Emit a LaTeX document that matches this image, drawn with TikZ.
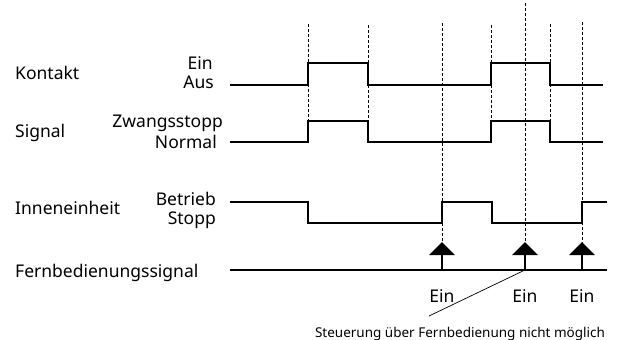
\documentclass[tikz,border=0pt]{standalone}
\usepackage{fontspec}
\setmainfont{Noto Sans}
\usetikzlibrary{positioning, arrows.meta}

\begin{document}
\begin{tikzpicture}[
        x=1pt, y=-1pt,
        font=\fontsize{17.5}{20}\selectfont,
        verlauf/.style={draw, line width=2.8pt, line join=miter},
        hilfslinie/.style={draw, densely dashed, line width=0.7pt},
        bezeichnung/.style={anchor=base west, inner sep=0pt},
        zustand/.style={anchor=base east, inner sep=0pt},
        pfeil/.style={draw, line width=2.8pt, -{Triangle[width=25pt, length=13pt]}},
        hinweis/.style={font=\fontsize{13.5}{15}\selectfont, anchor=base, inner sep=0pt}
    ]
    \useasboundingbox (0,0) rectangle (625,340);

    % Bezeichnungen links
    \node (kontakt) [bezeichnung] at (15,79) {Kontakt};
    \node (signal) [bezeichnung] at (15,137) {Signal};
    \node (innen) [bezeichnung] at (15,214) {Inneneinheit};
    \node (fern) [bezeichnung] at (15,277) {Fernbedienungssignal};

    % Zustaende
    \node (ein-k) [zustand] at (213,69) {Ein};
    \node (aus-k) [zustand] at (214,88) {Aus};
    \node (zwang-s) [zustand] at (223,127) {Zwangsstopp};
    \node (normal-s) [zustand] at (217,148) {Normal};
    \node (betrieb-i) [zustand] at (216,205) {Betrieb};
    \node (stopp-i) [zustand] at (216,224) {Stopp};

    % Hilfslinien
    \foreach \x/\oben/\unten in {308/24/121, 368/25/121, 442/23/243, 491/25/121,
                                 525/3/243, 550/24/121, 582/22/243}
        \draw[hilfslinie] (\x,\oben) -- (\x,\unten);

    % Signalverlaeufe
    \draw[verlauf] (230,85) -- (308,85) -- (308,63) -- (368,63) -- (368,85) -- (491,85)
        -- (491,63) -- (550,63) -- (550,85) -- (603,85);
    \draw[verlauf] (230,142) -- (308,142) -- (308,121) -- (368,121) -- (368,142) -- (491,142)
        -- (491,121) -- (550,121) -- (550,142) -- (603,142);
    \draw[verlauf] (230,202) -- (308,202) -- (308,223) -- (442,223) -- (442,202) -- (492,202)
        -- (492,223) -- (582,223) -- (582,202) -- (607,202);
    \draw[verlauf] (230,270) -- (607,270);

    % Fernbedienung Ein
    \foreach \i/\x in {1/442, 2/525, 3/582} {
        \coordinate (f\i) at (\x,270);
        \coordinate (f\i-spitze) at (\x,242);
        \draw[pfeil] (f\i) -- (f\i-spitze);
        \node (ein\i) [zustand, anchor=base] at (\x,302) {Ein};
    }

    % Hinweis
    \node (nicht) [hinweis] at (460,337) {Steuerung über Fernbedienung nicht möglich};
    \coordinate (nicht-ende) at (429,316);
    \draw[line width=0.7pt] (f2) -- (nicht-ende);

\end{tikzpicture}
\end{document}
